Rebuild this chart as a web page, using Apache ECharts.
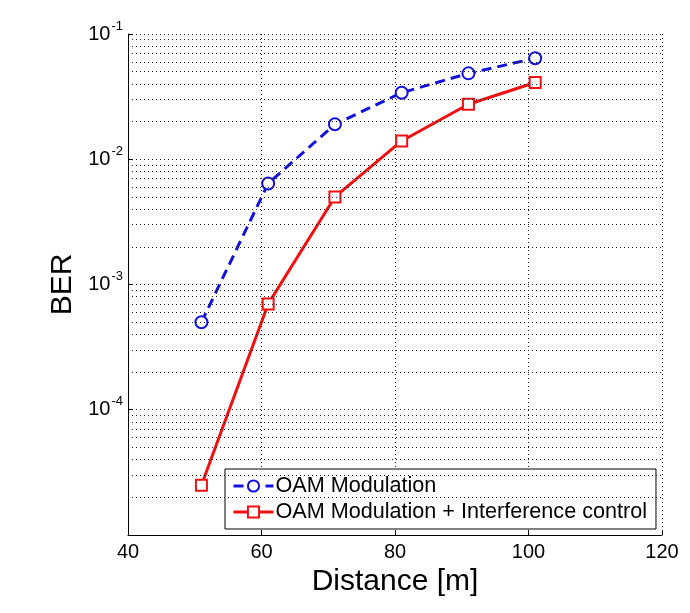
<!DOCTYPE html>
<html>
<head>
<meta charset="utf-8">
<script src="https://cdn.jsdelivr.net/npm/echarts@6/dist/echarts.min.js"></script>
<style>
html,body{margin:0;padding:0;background:#fff;}
#chart{width:690px;height:613px;}
</style>
</head>
<body>
<div id="chart"></div>
<script>
const distances = [51, 61, 71, 81, 91, 101];
const berOAM = [5.0e-4, 6.4e-3, 1.9e-2, 3.4e-2, 4.85e-2, 6.4e-2];
const berOAMIC = [2.5e-5, 7.0e-4, 5.0e-3, 1.4e-2, 2.75e-2, 4.1e-2];
const seriesNames = ['OAM Modulation', 'OAM Modulation + Interference control'];
const xTicks = [40, 60, 80, 100, 120];
const yDecades = [1e-5, 1e-4, 1e-3, 1e-2, 1e-1];

const FONT = 'Liberation Sans, Arial, sans-serif';
const xMin = xTicks[0], xMax = xTicks[xTicks.length - 1];

// minor log gridline positions (2..9 x 10^k)
const minorGrid = [];
for (let k = -5; k <= -2; k++) {
  for (let m = 2; m <= 9; m++) minorGrid.push(m * Math.pow(10, k));
}

const dotted = { type: [1, 3], color: '#222', width: 1 };

const chart = echarts.init(document.getElementById('chart'), null, { renderer: 'canvas' });
chart.setOption({
  animation: false,
  backgroundColor: '#fff',
  grid: { left: 128, top: 34, right: 28, bottom: 78, containLabel: false },
  legend: {
    left: 225, top: 469,
    orient: 'vertical',
    backgroundColor: '#fff',
    borderColor: '#000', borderWidth: 1, borderRadius: 0,
    padding: [6, 9, 6, 7],
    itemWidth: 40, itemHeight: 14, itemGap: 4,
    lineStyle: { width: 3 },
    textStyle: { fontSize: 21.6, fontFamily: FONT, color: '#000', padding: [0, 0, 0, -3] },
    data: seriesNames
  },
  xAxis: {
    type: 'value', min: xMin, max: xMax, interval: 20,
    name: 'Distance [m]', nameLocation: 'middle', nameGap: 26,
    nameTextStyle: { fontSize: 30, fontFamily: FONT, color: '#000' },
    axisLine: { show: true, lineStyle: { color: '#000', width: 1 } },
    axisTick: { show: true, inside: true, length: 5, lineStyle: { color: '#000' } },
    axisLabel: { fontSize: 20, fontFamily: FONT, color: '#000', margin: 7 },
    splitLine: { show: true, lineStyle: dotted }
  },
  yAxis: {
    type: 'log', logBase: 10, min: yDecades[0], max: yDecades[yDecades.length - 1],
    name: 'BER', nameLocation: 'middle', nameGap: 50, nameRotate: 90,
    nameTextStyle: { fontSize: 30, fontFamily: FONT, color: '#000' },
    axisLine: { show: true, lineStyle: { color: '#000', width: 1 } },
    axisTick: { show: true, inside: true, length: 5, lineStyle: { color: '#000' } },
    axisLabel: {
      margin: 5, color: '#000', fontFamily: FONT,
      formatter: v => {
        const e = Math.round(Math.log10(v));
        return e <= -5 ? '' : '{b|10}{s|' + e + '}';
      },
      rich: {
        b: { fontSize: 20, fontFamily: FONT, color: '#000', lineHeight: 20 },
        s: { fontSize: 13, fontFamily: FONT, color: '#000', lineHeight: 13, padding: [0, 0, 16, 1] }
      }
    },
    splitLine: { show: true, lineStyle: dotted }
  },
  series: [
    {
      name: seriesNames[0], type: 'line',
      data: distances.map((d, i) => [d, berOAM[i]]),
      symbol: 'emptyCircle', symbolSize: 12,
      lineStyle: { color: '#1212dc', width: 3, type: [10, 6] },
      itemStyle: { color: '#1212dc', borderWidth: 2.5, borderColor: '#1212dc' },
      z: 3
    },
    {
      name: seriesNames[1], type: 'line',
      data: distances.map((d, i) => [d, berOAMIC[i]]),
      symbol: 'emptyRect', symbolSize: 11,
      lineStyle: { color: '#f01010', width: 3 },
      itemStyle: { color: '#f01010', borderWidth: 3, borderColor: '#f01010' },
      z: 4
    },
    {
      name: 'minorGrid', type: 'line', data: [], z: 1, silent: true,
      markLine: {
        silent: true, symbol: 'none', animation: false,
        label: { show: false },
        lineStyle: dotted,
        emphasis: { disabled: true },
        data: minorGrid.map(v => [{ coord: [xMin, v] }, { coord: [xMax, v] }])
      }
    }
  ]
});
</script>
</body>
</html>
